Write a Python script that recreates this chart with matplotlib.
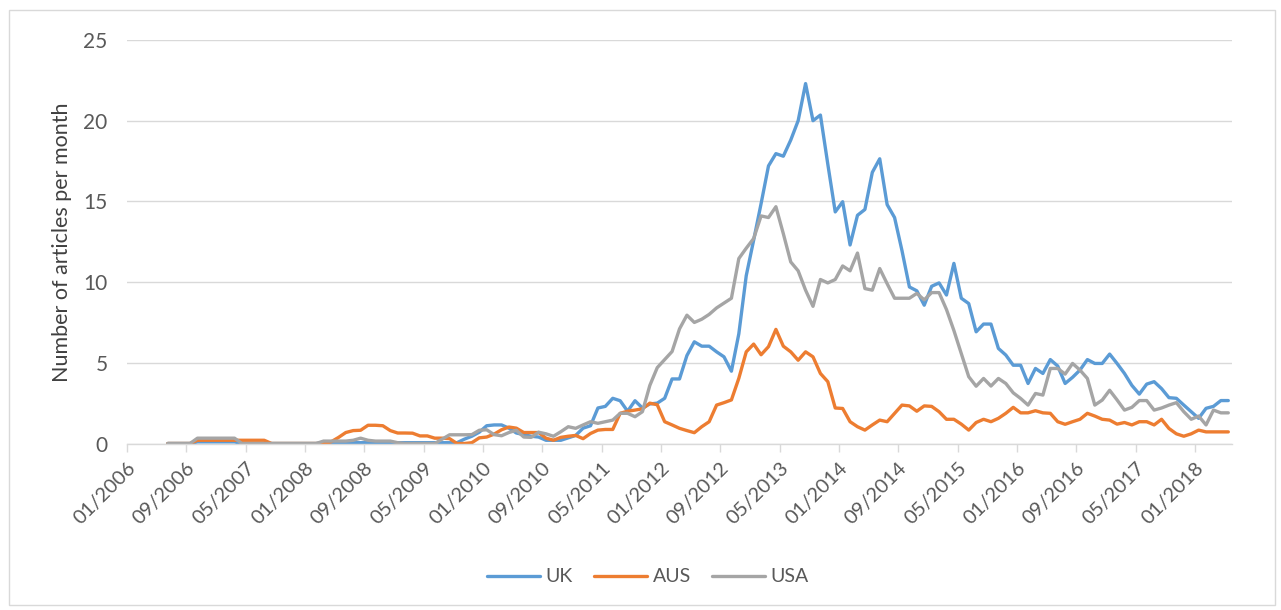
import matplotlib
matplotlib.use("Agg")
import matplotlib.pyplot as plt
from matplotlib.patches import Rectangle
import numpy as np

# Monthly values from 06/2006 to 05/2018
start_month = 5  # months after 01/2006 (i.e. 06/2006)

uk = [
    0, 0, 0, 0, 0.1, 0.1, 0.1,                                         # 2006 Jun-Dec
    0.1, 0.1, 0.1, 0, 0, 0, 0, 0, 0, 0, 0, 0,                          # 2007
    0, 0, 0.05, 0.05, 0.05, 0.05, 0.05, 0.05, 0.05, 0.05, 0.05, 0.05,  # 2008
    0.05, 0.05, 0.05, 0.05, 0.05, 0.05, 0.05, 0.05, 0.05, 0.27, 0.45, 0.7,  # 2009
    1.1, 1.15, 1.15, 0.95, 0.65, 0.55, 0.45, 0.4, 0.2, 0.2, 0.2, 0.35,  # 2010
    0.5, 0.95, 1.1, 2.2, 2.3, 2.8, 2.65, 2.0, 2.65, 2.2, 2.45, 2.5,    # 2011
    2.8, 4.0, 4.0, 5.45, 6.3, 6.03, 6.03, 5.68, 5.37, 4.48, 6.8, 10.4,  # 2012
    12.6, 14.86, 17.2, 17.96, 17.8, 18.8, 20.0, 22.3, 20.0, 20.35, 17.3, 14.35,  # 2013
    14.98, 12.3, 14.14, 14.5, 16.8, 17.64, 14.8, 14.0, 11.95, 9.7, 9.46, 8.57,   # 2014
    9.74, 9.95, 9.2, 11.16, 9.0, 8.67, 6.92, 7.4, 7.4, 5.89, 5.48, 4.85,  # 2015
    4.85, 3.72, 4.65, 4.34, 5.2, 4.8, 3.72, 4.1, 4.55, 5.2, 4.96, 4.96,  # 2016
    5.54, 4.96, 4.34, 3.6, 3.06, 3.68, 3.83, 3.4, 2.84, 2.8, 2.38, 1.97,  # 2017
    1.56, 2.18, 2.3, 2.66, 2.66,                                        # 2018 Jan-May
]

aus = [
    0, 0, 0, 0, 0.2, 0.2, 0.2,
    0.2, 0.2, 0.2, 0.2, 0.2, 0.2, 0.2, 0, 0, 0, 0, 0,
    0, 0, 0, 0.1, 0.37, 0.68, 0.8, 0.82, 1.13, 1.13, 1.1, 0.8,
    0.65, 0.65, 0.64, 0.47, 0.47, 0.33, 0.33, 0.3, 0, 0, 0.05, 0.35,
    0.4, 0.58, 0.85, 1.02, 0.95, 0.68, 0.68, 0.68, 0.33, 0.2, 0.38, 0.45,
    0.5, 0.3, 0.62, 0.83, 0.87, 0.87, 1.87, 2.0, 2.07, 2.15, 2.5, 2.4,
    1.35, 1.15, 0.94, 0.8, 0.67, 1.04, 1.35, 2.38, 2.53, 2.7, 4.04, 5.68,
    6.16, 5.5, 6.0, 7.07, 6.03, 5.68, 5.16, 5.68, 5.37, 4.34, 3.83, 2.2,
    2.17, 1.35, 1.04, 0.83, 1.15, 1.45, 1.35, 1.87, 2.38, 2.33, 2.0, 2.33,
    2.3, 1.97, 1.5, 1.5, 1.2, 0.83, 1.3, 1.5, 1.35, 1.56, 1.87, 2.24,
    1.9, 1.9, 2.03, 1.9, 1.87, 1.35, 1.19, 1.35, 1.5, 1.87, 1.7, 1.5,
    1.45, 1.2, 1.3, 1.15, 1.35, 1.35, 1.15, 1.5, 0.93, 0.6, 0.45, 0.6,
    0.83, 0.72, 0.72, 0.72, 0.72,
]

usa = [
    0, 0, 0, 0, 0.33, 0.33, 0.33,
    0.33, 0.33, 0.33, 0, 0, 0, 0, 0, 0, 0, 0, 0,
    0, 0, 0.15, 0.15, 0.15, 0.15, 0.2, 0.33, 0.2, 0.15, 0.15, 0.15,
    0.05, 0, 0, 0, 0, 0, 0.27, 0.54, 0.54, 0.54, 0.55, 0.82,
    0.85, 0.55, 0.48, 0.68, 0.82, 0.4, 0.38, 0.7, 0.6, 0.45, 0.73, 1.04,
    0.94, 1.15, 1.35, 1.25, 1.35, 1.45, 1.87, 1.87, 1.66, 1.97, 3.6, 4.7,
    5.2, 5.7, 7.1, 7.95, 7.5, 7.7, 8.0, 8.4, 8.7, 9.0, 11.46, 12.1,
    12.7, 14.1, 14.0, 14.67, 13.0, 11.25, 10.7, 9.5, 8.5, 10.16, 9.95, 10.16,
    11.0, 10.7, 11.8, 9.6, 9.5, 10.84, 9.9, 9.0, 9.0, 9.0, 9.3, 8.9,
    9.35, 9.35, 8.3, 7.0, 5.58, 4.14, 3.55, 4.03, 3.56, 4.03, 3.72, 3.14,
    2.79, 2.38, 3.1, 3.0, 4.65, 4.65, 4.3, 4.96, 4.55, 4.03, 2.38, 2.69,
    3.3, 2.7, 2.07, 2.24, 2.66, 2.66, 2.07, 2.2, 2.38, 2.53, 1.97, 1.5,
    1.7, 1.15, 2.07, 1.9, 1.9,
]

tick_labels = ["01/2006", "09/2006", "05/2007", "01/2008", "09/2008", "05/2009",
               "01/2010", "09/2010", "05/2011", "01/2012", "09/2012", "05/2013",
               "01/2014", "09/2014", "05/2015", "01/2016", "09/2016", "05/2017",
               "01/2018"]
y_ticks = [0, 5, 10, 15, 20, 25]

series = [("UK", uk, "#5B9BD5"), ("AUS", aus, "#ED7D31"), ("USA", usa, "#A5A5A5")]

plt.rcParams['font.family'] = ['Lato', 'DejaVu Sans']
text_color = "#595959"
grid_color = "#D9D9D9"

W, H = 1281, 610
fig = plt.figure(figsize=(W / 100, H / 100), dpi=100)
fig.patch.set_facecolor("white")

# chart border
fig.patches.append(Rectangle((9 / W, 1 - 605 / H), (1275 - 9) / W, (605 - 10) / H,
                             transform=fig.transFigure, fill=False,
                             edgecolor=grid_color, linewidth=1.0))

left, right = 127 / W, 1232 / W
bottom, top = 1 - 443.5 / H, 1 - 40 / H
ax = fig.add_axes([left, bottom, right - left, top - bottom])

n = len(uk)
x = np.arange(n) + start_month + 0.5
for name, vals, col in series:
    ax.plot(x, vals, color=col, linewidth=2.4, label=name, solid_joinstyle='round',
            solid_capstyle='round')

n_months = start_month + n
ax.set_xlim(0, n_months)
ax.set_ylim(0, 25)
ax.set_yticks(y_ticks)
ax.set_yticklabels([str(v) for v in y_ticks])
tick_pos = np.arange(len(tick_labels)) * 8
ax.set_xticks(tick_pos)
ax.set_xticklabels(tick_labels, rotation=45, ha='right', va='top',
                   rotation_mode='anchor')

ax.grid(axis='y', color=grid_color, linewidth=1.0)
ax.set_axisbelow(True)
for s in ['top', 'right', 'left']:
    ax.spines[s].set_visible(False)
ax.spines['bottom'].set_color(grid_color)
ax.spines['bottom'].set_linewidth(1.0)

ax.tick_params(axis='y', length=0, pad=14, labelsize=15, labelcolor=text_color)
ax.tick_params(axis='x', length=6, width=1.0, color=grid_color, pad=5,
               labelsize=14.5, labelcolor=text_color)

ax.set_ylabel("Number of articles per month", fontsize=15.5, color="#404040",
              labelpad=8)

fig.legend(loc='center', bbox_to_anchor=(648 / W, 1 - 577 / H), ncol=3,
           frameon=False, fontsize=14, labelcolor=text_color,
           handlelength=2.7, handletextpad=0.3, columnspacing=1.1)

fig.savefig("out.png", dpi=100, facecolor="white")
